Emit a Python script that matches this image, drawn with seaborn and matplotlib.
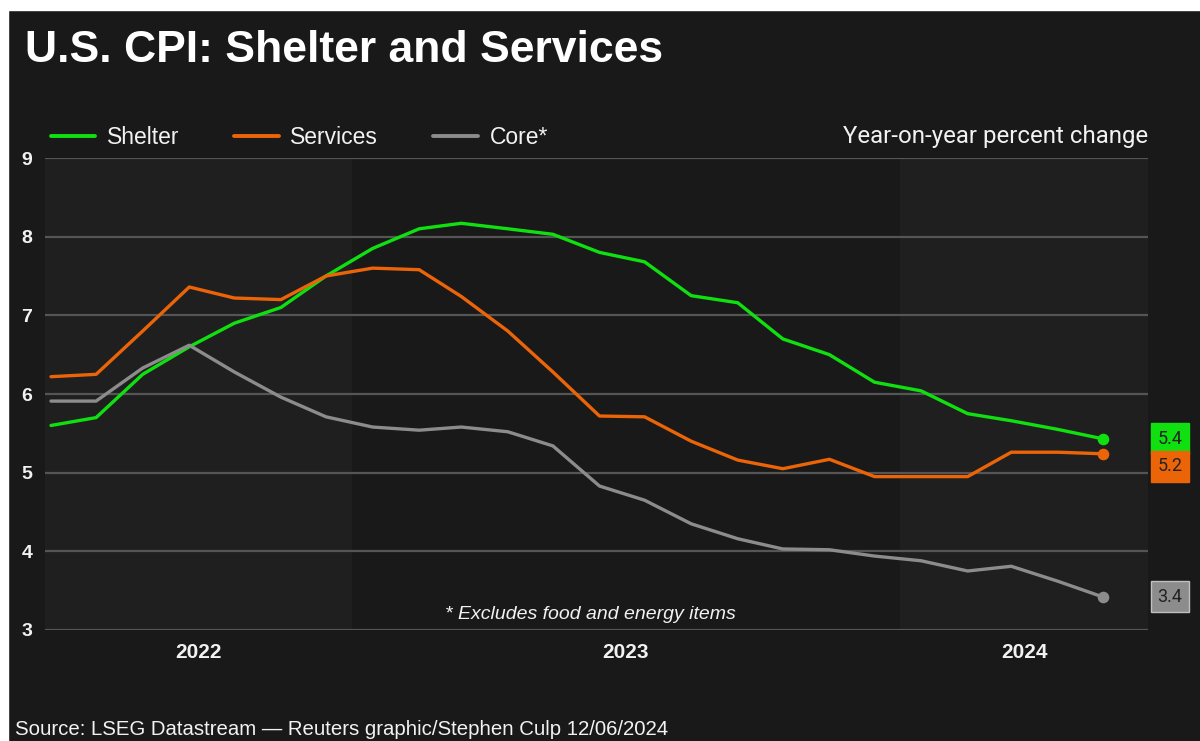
import matplotlib
matplotlib.use("Agg")
import matplotlib.pyplot as plt
from matplotlib.patches import Rectangle
from matplotlib.lines import Line2D
import pandas as pd
import seaborn as sns

# ── data (year-on-year % change, Jun 2022 .. May 2024) ───────────────────────
months = pd.date_range("2022-06-01", "2024-05-01", freq="MS") + pd.Timedelta(days=14)
shelter = [5.6, 5.7, 6.25, 6.6, 6.9, 7.1, 7.5, 7.85, 8.1, 8.17, 8.1, 8.03,
           7.8, 7.68, 7.25, 7.16, 6.7, 6.5, 6.15, 6.04, 5.75, 5.66, 5.55, 5.43]
services = [6.22, 6.25, 6.8, 7.36, 7.22, 7.2, 7.5, 7.6, 7.58, 7.24, 6.8, 6.28,
            5.72, 5.71, 5.4, 5.16, 5.05, 5.17, 4.95, 4.95, 4.95, 5.26, 5.26, 5.24]
core = [5.91, 5.91, 6.33, 6.62, 6.28, 5.96, 5.71, 5.58, 5.54, 5.58, 5.52, 5.34,
        4.83, 4.65, 4.35, 4.16, 4.03, 4.02, 3.94, 3.88, 3.75, 3.81, 3.62, 3.42]
series_names = ["Shelter", "Services", "Core*"]
end_labels = ["5.4", "5.2", "3.4"]
years = [2022, 2023, 2024]
yticks = [3, 4, 5, 6, 7, 8, 9]

colors = {"Shelter": "#10e010", "Services": "#ec6408", "Core*": "#8c8c8c"}
BG = "#191919"
BAND = "#1f1f1f"
GRID = "#555555"
TXT = "#f2f2f2"

df = pd.concat([
    pd.DataFrame({"date": months, "value": vals, "series": name})
    for name, vals in zip(series_names, [shelter, services, core])
])

sns.set_style("dark")
plt.rcParams["font.family"] = ["Liberation Sans", "DejaVu Sans"]

fig = plt.figure(figsize=(12, 7.41), dpi=100, facecolor=BG)
ax = fig.add_axes([45 / 1200, 1 - 630 / 741, (1148 - 45) / 1200, (630 - 158) / 741])
ax.set_facecolor(BG)

x0 = pd.Timestamp("2022-06-11")
x1 = pd.Timestamp("2024-06-14")
ax.set_xlim(x0, x1)
ax.set_ylim(3, 9)

# alternating year bands
y23 = pd.Timestamp("2023-01-01")
y24 = pd.Timestamp("2024-01-01")
ax.axvspan(x0, y23, color=BAND, zorder=0, lw=0)
ax.axvspan(y24, x1, color=BAND, zorder=0, lw=0)

for y in yticks:
    ax.axhline(y, color=GRID, lw=1.6, zorder=1)

sns.lineplot(data=df, x="date", y="value", hue="series", palette=colors,
             linewidth=2.4, ax=ax, legend=False, zorder=3)

# end dots and value boxes
label_pos = [shelter[-1], shelter[-1] - 0.35, core[-1]]
for name, vals, lab, ly in zip(series_names, [shelter, services, core], end_labels, label_pos):
    ax.scatter(months[-1], vals[-1], s=70, color=colors[name], zorder=4, lw=0)
    ax.text(1.0085, ly, lab, transform=ax.get_yaxis_transform(), ha="left", va="center",
            fontsize=13, color="#222222", family=["Roboto", "DejaVu Sans"],
            bbox=dict(boxstyle="square,pad=0.36", fc=colors[name],
                      ec="#c0c0c0" if name == "Core*" else colors[name], lw=1),
            clip_on=False, zorder=5)

# axes styling
for s in ax.spines.values():
    s.set_visible(False)
ax.grid(False)
ax.set_xlabel("")
ax.set_ylabel("")
ax.set_yticks(yticks)
ax.set_yticklabels([str(v) for v in yticks], fontsize=14, fontweight="bold", color=TXT)
ax.tick_params(axis="y", length=0, pad=9)

centers = [x0 + (y23 - x0) / 2, y23 + (y24 - y23) / 2, y24 + (x1 - y24) / 2]
ax.set_xticks(centers)
ax.set_xticklabels([str(y) for y in years], fontsize=15, fontweight="bold", color=TXT)
ax.tick_params(axis="x", length=0, pad=9)

ax.text(0.494, 3.2, "* Excludes food and energy items", transform=ax.get_yaxis_transform(),
        ha="center", va="center", fontsize=14, style="italic", color=TXT, zorder=5)

# title, legend, subtitle, source
fig.text(25 / 1200, 1 - 50 / 741, "U.S. CPI: Shelter and Services", fontsize=32,
         fontweight="bold", color="white", va="center", ha="left")

handles = [Line2D([0], [0], color=colors[n], lw=2.8) for n in series_names]
leg = fig.legend(handles, series_names, loc="center left",
                 bbox_to_anchor=(30 / 1200, 1 - 138 / 741), ncol=3, frameon=False,
                 fontsize=16.5, handlelength=1.95, handletextpad=0.5, columnspacing=2.4)
for t in leg.get_texts():
    t.set_color(TXT)

fig.text(1148 / 1200, 1 - 137 / 741, "Year-on-year percent change", ha="right", va="center",
         fontsize=17.3, color=TXT, family=["Roboto", "DejaVu Sans"])

fig.text(15 / 1200, 2 / 741, "Source: LSEG Datastream \u2014 Reuters graphic/Stephen Culp 12/06/2024",
         ha="left", va="bottom", fontsize=14.7, color=TXT)

# white margin strips at top and left edge
fig.patches.append(Rectangle((0, 1 - 10 / 741), 1, 10 / 741, transform=fig.transFigure,
                             color="white", zorder=10))
fig.patches.append(Rectangle((0, 0), 8 / 1200, 1, transform=fig.transFigure,
                             color="white", zorder=10))

fig.savefig("out.png", dpi=100, facecolor=BG)
